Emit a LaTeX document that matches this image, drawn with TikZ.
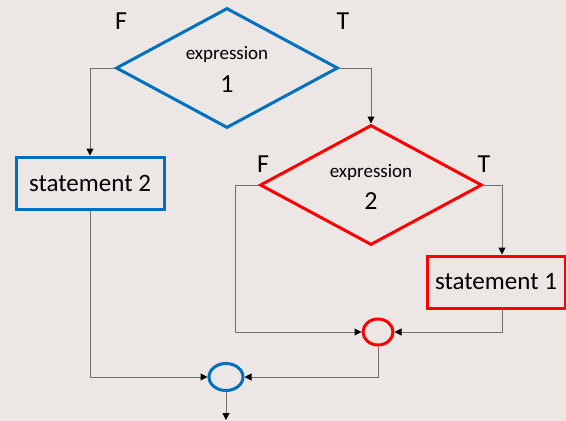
\documentclass[tikz,border=0pt]{standalone}
\usepackage{fontspec}
\setmainfont{Carlito}
\usetikzlibrary{shapes.geometric,arrows.meta}
\definecolor{bg}{RGB}{236,231,229}
\definecolor{myblue}{RGB}{0,112,192}
\definecolor{myred}{RGB}{255,0,0}
\definecolor{conncol}{RGB}{110,110,110}
\tikzset{
  decision/.style={diamond,draw,line width=3pt,inner sep=0pt,minimum width=#1},
  stbox/.style={rectangle,draw,line width=3pt,inner sep=0pt,font=\fontsize{25}{30}\selectfont},
  junction/.style={ellipse,draw,line width=3pt,inner sep=0pt},
  conn/.style={draw=conncol,line width=1pt,-{Triangle[length=7pt,width=7pt,color=black]}},
  ftlabel/.style={font=\fontsize{26}{30}\selectfont,inner sep=0pt},
  exprlabel/.style={font=\fontsize{19}{22}\selectfont,inner sep=0pt},
  numlabel/.style={font=\fontsize{26}{30}\selectfont,inner sep=0pt}
}
\begin{document}
\begin{tikzpicture}[x=1pt,y=-1pt]
\fill[bg] (0,0) rectangle (566,421);
\useasboundingbox (0,0) rectangle (566,421);

% decisions
\node[decision=222pt,minimum height=120pt,draw=myblue] (d1) at (227,68) {};
\node[decision=222pt,minimum height=120pt,draw=myred] (d2) at (371,185) {};
\node[exprlabel] (e1) at (227,54) {expression};
\node[numlabel] (n1) at (227,84) {1};
\node[exprlabel] (e2) at (371,172) {expression};
\node[numlabel] (n2) at (371,201) {2};

% F/T labels
\node[ftlabel] (f1) at (121,21) {F};
\node[ftlabel] (t1) at (343,21) {T};
\node[ftlabel] (f2) at (263,164) {F};
\node[ftlabel] (t2) at (484,164) {T};

% statements
\node[stbox,draw=myblue,minimum width=148pt,minimum height=52pt] (s2) at (90,183) {statement 2};
\node[stbox,draw=myred,minimum width=138pt,minimum height=52pt] (s1) at (496,282) {statement 1};

% junctions
\node[junction,draw=myred,minimum width=30pt,minimum height=26pt] (c2) at (378,332) {};
\node[junction,draw=myblue,minimum width=34pt,minimum height=27pt] (c1) at (226,377) {};

\coordinate (fl) at (235,185);
\coordinate (tr) at (502,185);
\coordinate (sb) at (502,309);
\coordinate (out) at (226,420);

% connectors
\draw[conn] (d1.west) -| (s2.north);
\draw[conn] (d1.east) -| (d2.north);
\draw[conn] (d2.west) -- (fl) |- (c2.west);
\draw[conn] (d2.east) -- (tr) -- (tr |- s1.north);
\draw[conn] (sb) |- (c2.east);
\draw[conn] (c2.south) |- (c1.east);
\draw[conn] (s2.south) |- (c1.west);
\draw[conn] (c1.south) -- (out);
\end{tikzpicture}
\end{document}
